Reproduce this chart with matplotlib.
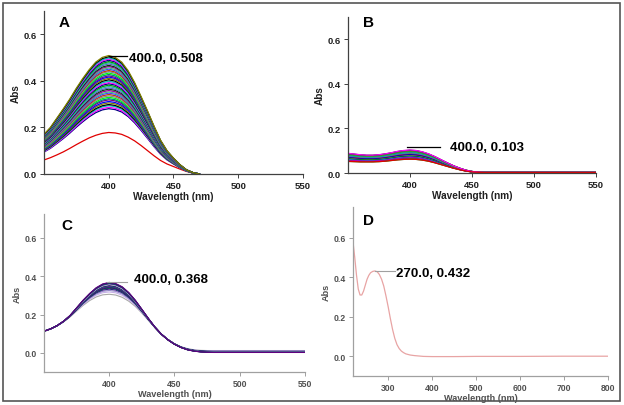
import matplotlib
matplotlib.use("Agg")
import matplotlib.pyplot as plt
import numpy as np
from matplotlib.patches import Rectangle
from matplotlib import font_manager as fm

plt.rcParams['font.family'] = ['Liberation Sans', 'DejaVu Sans']

# narrow bold face for panels A and B, if one is installed
names = {f.name for f in fm.fontManager.ttflist}
NARROW = [n for n in ['Liberation Sans Narrow', 'DejaVu Sans Condensed']
          if n in names] + ['Liberation Sans']

# ---------------- data ----------------
# panel A: lowest (red) and highest trace, 350..470 nm every 5 nm
wl_a = [350, 355, 360, 365, 370, 375, 380, 385, 390, 395, 400, 405, 410,
        415, 420, 425, 430, 435, 440, 445, 450, 455, 460, 465, 470]
a_low = [0.060, 0.070, 0.082, 0.095, 0.110, 0.126, 0.141, 0.155, 0.166,
         0.174, 0.178, 0.176, 0.170, 0.158, 0.142, 0.122, 0.100, 0.078,
         0.058, 0.043, 0.032, 0.021, 0.011, 0.004, 0.0]
a_high = [0.170, 0.200, 0.240, 0.280, 0.322, 0.368, 0.410, 0.448, 0.480,
          0.500, 0.508, 0.500, 0.480, 0.443, 0.392, 0.332, 0.270, 0.205,
          0.145, 0.100, 0.068, 0.040, 0.018, 0.006, 0.0]
a_peaks = [0.178, 0.280, 0.286, 0.293, 0.298, 0.305, 0.311, 0.318, 0.323,
           0.329, 0.335, 0.341, 0.347, 0.352, 0.358, 0.364, 0.369, 0.375,
           0.381, 0.387, 0.392, 0.398, 0.404, 0.410, 0.416, 0.421, 0.427,
           0.433, 0.439, 0.444, 0.450, 0.455, 0.461, 0.466, 0.472, 0.477,
           0.482, 0.488, 0.493, 0.498, 0.503, 0.508]

# panel B
wl_b = [350, 355, 360, 365, 370, 375, 380, 385, 390, 395, 400, 405, 410,
        415, 420, 425, 430, 435, 440, 445, 450, 455, 460, 470, 480, 500,
        520, 550]
b_low = [0.052, 0.051, 0.050, 0.050, 0.050, 0.051, 0.053, 0.056, 0.059,
         0.061, 0.062, 0.061, 0.058, 0.053, 0.046, 0.038, 0.030, 0.022,
         0.015, 0.009, 0.005, 0.003, 0.002, 0.002, 0.002, 0.002, 0.002, 0.002]
b_high = [0.088, 0.085, 0.082, 0.080, 0.080, 0.082, 0.086, 0.091, 0.097,
          0.101, 0.103, 0.101, 0.095, 0.086, 0.074, 0.060, 0.046, 0.033,
          0.022, 0.013, 0.007, 0.004, 0.003, 0.003, 0.003, 0.003, 0.003, 0.003]
b_peaks = [0.062, 0.064, 0.066, 0.068, 0.070, 0.072, 0.074, 0.076, 0.078,
           0.080, 0.082, 0.084, 0.086, 0.088, 0.090, 0.092, 0.094, 0.096,
           0.098, 0.100, 0.101, 0.102, 0.103]

# panel C
wl_c = [350, 355, 360, 365, 370, 375, 380, 385, 390, 395, 400, 405, 410,
        415, 420, 425, 430, 435, 440, 445, 450, 455, 460, 465, 470, 475,
        480, 500, 520, 550]
c_low = [0.113, 0.125, 0.141, 0.162, 0.188, 0.218, 0.248, 0.273, 0.292,
         0.303, 0.306, 0.302, 0.290, 0.270, 0.243, 0.208, 0.170, 0.132,
         0.098, 0.070, 0.048, 0.032, 0.022, 0.016, 0.013, 0.012, 0.012,
         0.012, 0.012, 0.012]
c_high = [0.113, 0.125, 0.142, 0.165, 0.195, 0.235, 0.275, 0.310, 0.340,
          0.360, 0.368, 0.362, 0.345, 0.315, 0.275, 0.228, 0.180, 0.135,
          0.097, 0.068, 0.045, 0.028, 0.016, 0.009, 0.005, 0.003, 0.002,
          0.002, 0.002, 0.002]
c_peaks = [0.306, 0.318, 0.326, 0.333, 0.337, 0.340, 0.343, 0.346, 0.348,
           0.350, 0.352, 0.354, 0.356, 0.358, 0.360, 0.362, 0.364, 0.366,
           0.368]

# panel D
wl_d = [220, 224, 228, 232, 236, 240, 244, 248, 252, 256, 260, 265, 270,
        275, 280, 285, 290, 295, 300, 305, 310, 315, 320, 325, 330, 335,
        340, 350, 360, 370, 380, 400, 450, 500, 600, 700, 800]
abs_d = [0.580, 0.500, 0.410, 0.340, 0.310, 0.310, 0.330, 0.360, 0.390,
         0.410, 0.423, 0.430, 0.432, 0.428, 0.414, 0.390, 0.355, 0.305,
         0.250, 0.190, 0.135, 0.090, 0.058, 0.038, 0.025, 0.017, 0.011,
         0.005, 0.002, 0.0, -0.002, -0.003, -0.003, -0.002, -0.002, -0.001,
         -0.001]

COLORS_A = ['#00a000', '#000080', '#ff00ff', '#00c0c0', '#000000', '#808000',
            '#0000ff', '#800080', '#008080', '#00ff00', '#8080a0', '#c04000',
            '#4040ff', '#40c080', '#a000a0', '#004000', '#6060c0', '#20b0b0']
COLORS_C = ['#a8a8a8', '#c8b0e8', '#9088c8', '#400080', '#008060', '#202060',
            '#600080', '#006040', '#303090', '#7020a0', '#107070', '#000040']

fig = plt.figure(figsize=(6.24, 4.06), dpi=100)
fig.patches.append(Rectangle((3 / 624, 4 / 406), 617 / 624, 398 / 406,
                             transform=fig.transFigure, fill=False,
                             edgecolor='#555555', linewidth=1.2))

ax_a = fig.add_axes([0.0705, 0.569, 0.415, 0.402])
ax_b = fig.add_axes([0.5577, 0.5714, 0.397, 0.385])
ax_c = fig.add_axes([0.0705, 0.0813, 0.418, 0.389])
ax_d = fig.add_axes([0.5657, 0.0722, 0.4087, 0.4155])


def blend(low, high, peak):
    low = np.asarray(low)
    high = np.asarray(high)
    lo_p, hi_p = low.max(), high.max()
    w = (peak - lo_p) / (hi_p - lo_p)
    return low + w * (high - low)


def style(ax, xlim, ylim, xticks, dark, letter, lx, ly):
    ax.set_xlim(*xlim)
    ax.set_ylim(*ylim)
    ax.set_xticks(xticks)
    ax.set_yticks([0.0, 0.2, 0.4, 0.6])
    ax.yaxis.set_major_formatter(matplotlib.ticker.FormatStrFormatter('%.1f'))
    for s in ['top', 'right']:
        ax.spines[s].set_visible(False)
    sc = '#404040' if dark else '#a0a0a0'
    tc = '#202020' if dark else '#505050'
    for s in ['left', 'bottom']:
        ax.spines[s].set_color(sc)
        ax.spines[s].set_linewidth(0.9)
    ax.tick_params(direction='out', length=3, width=0.7, color=sc,
                   labelsize=6.8 if dark else 6.2, labelcolor=tc, pad=2)
    fam = NARROW if dark else ['Liberation Sans']
    for lab in ax.get_xticklabels() + ax.get_yticklabels():
        lab.set_fontweight('bold')
        lab.set_family(fam)
    ax.set_xlabel('Wavelength (nm)', fontsize=7.2 if dark else 6.6,
                  fontweight='bold', color=tc, family=fam, labelpad=1)
    ax.set_ylabel('Abs', fontsize=7.2 if dark else 6.6, fontweight='bold',
                  color=tc, family=fam, labelpad=2)
    ax.text(lx, ly, letter, transform=ax.transAxes, fontsize=11,
            fontweight='bold', ha='left', va='center')


# A
for i, p in enumerate(a_peaks):
    col = '#e00000' if i == 0 else COLORS_A[i % len(COLORS_A)]
    ax_a.plot(wl_a, blend(a_low, a_high, p), color=col, lw=0.9)
ax_a.plot([400, 414], [0.508, 0.508], color='black', lw=0.9)
ax_a.text(416, 0.498, '400.0, 0.508', fontsize=9.5, fontweight='bold',
          va='center', ha='left')
style(ax_a, (350, 550), (0, 0.7), [400, 450, 500, 550], True, 'A', 0.055, 0.93)

# B
for i, p in enumerate(b_peaks):
    ax_b.plot(wl_b, blend(b_low, b_high, p),
              color=COLORS_A[(i * 5) % len(COLORS_A)], lw=0.9)
ax_b.plot(wl_b, b_low, color='#e00000', lw=0.9)
ax_b.plot([397.5, 424], [0.116, 0.116], color='black', lw=0.9)
ax_b.text(432, 0.116, '400.0, 0.103', fontsize=9.5, fontweight='bold',
          va='center', ha='left')
style(ax_b, (350, 550), (0, 0.7), [400, 450, 500, 550], True, 'B', 0.06, 0.965)

# C
for i, p in enumerate(c_peaks):
    ax_c.plot(wl_c, blend(c_low, c_high, p),
              color=COLORS_C[i % len(COLORS_C)], lw=0.8)
ax_c.plot([398, 414], [0.370, 0.370], color='#a0a0a0', lw=0.8)
ax_c.text(419, 0.385, '400.0, 0.368', fontsize=9.5, fontweight='bold',
          va='center', ha='left')
style(ax_c, (350, 550), (-0.1, 0.725), [400, 450, 500, 550], False, 'C', 0.065, 0.93)

# D
ax_d.plot(wl_d, abs_d, color='#e8a4a4', lw=0.9)
ax_d.plot([270, 315], [0.432, 0.432], color='#a0a0a0', lw=0.8)
ax_d.text(318, 0.420, '270.0, 0.432', fontsize=9.5, fontweight='bold',
          va='center', ha='left')
style(ax_d, (220, 800), (-0.1, 0.757), [300, 400, 500, 600, 700, 800], False,
      'D', 0.04, 0.92)

fig.savefig('out.png', dpi=100, facecolor='white')
